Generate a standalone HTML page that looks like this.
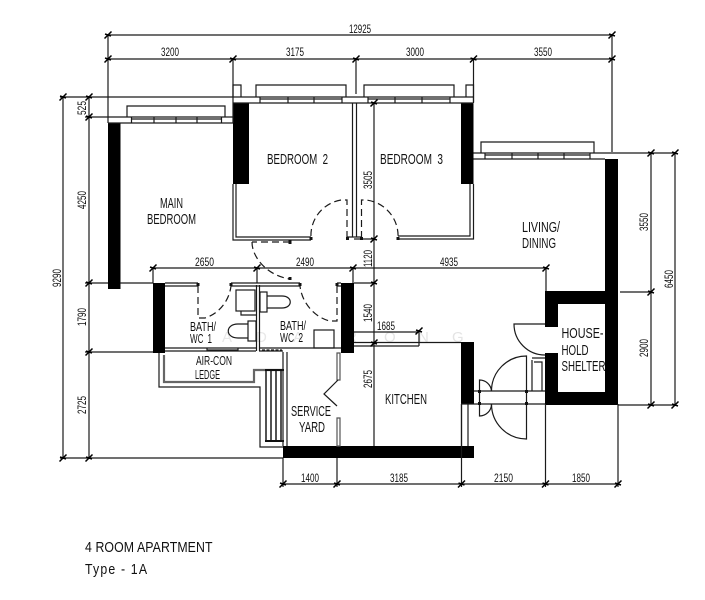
<!DOCTYPE html>
<html><head><meta charset="utf-8"><style>
html,body{margin:0;padding:0;background:#fff;width:705px;height:600px;overflow:hidden}
svg{display:block;filter:blur(.35px)}
text{font-family:"Liberation Sans",sans-serif;fill:#111}
.d{font-size:12px}
.l{font-size:15px;word-spacing:4px}
</style></head><body>
<svg width="705" height="600" viewBox="0 0 705 600" xmlns="http://www.w3.org/2000/svg">
<defs><path id="t" d="M-3.5 3.5L3.5-3.5M-3-1L3 1" fill="none" stroke="#000" stroke-width="1.5"/></defs>
<rect width="705" height="600" fill="#fff"/>

<!-- watermark -->
<g style="font-size:15px">
<text x="222" y="342" style="fill:#e8e8e8">A</text><text x="256" y="342" style="fill:#e8e8e8">D</text><text x="293" y="342" style="fill:#e8e8e8">A</text><text x="346" y="342" style="fill:#e4e4e4">R</text><text x="384" y="342" style="fill:#e4e4e4">O</text><text x="418" y="342" style="fill:#e4e4e4">N</text><text x="452" y="342" style="fill:#e4e4e4">G</text>
</g>

<!-- black walls -->
<g fill="#000">
<rect x="108" y="123" width="12.5" height="166"/>
<rect x="233" y="103" width="16" height="81"/>
<rect x="461" y="103" width="12.5" height="81"/>
<rect x="153" y="283" width="12" height="70"/>
<rect x="341" y="283" width="13" height="70"/>
<rect x="283" y="446" width="191" height="12"/>
<rect x="461" y="342" width="13" height="62"/>
<rect x="605" y="159" width="13" height="133"/>
<path fill-rule="evenodd" d="M545 291H618V405H545ZM558 304V392H605V304Z"/>
</g>
<rect x="545" y="327" width="13.5" height="26" fill="#fff"/>

<g fill="none" stroke="#1a1a1a" stroke-width="1.2">
<!-- dimension lines -->
<path d="M108 35H612M108 59H612M108 35V123M233 59V100M356 59V94M473.5 59V102M612 35V152"/>
<path d="M63 97V458M89 97V458M60 97H233M85 117H108M85 283H108M120 283H153M85 352H153M60 458H283"/>
<path d="M153 268H546M153 268V283M257 268V283M353 268V283M546 268V291"/>
<path d="M374 103V446M354 239H374M354 283H374M354 332H419M354 346H419M419 331V346"/>
<path d="M651 153V405M675 153V405M618 153H675M620 292H651M618 405H675"/>
<path d="M283 484H618M283 458V487M337 458V487M461.5 404V487M545.5 404V487M618 404V487"/>

<!-- main bedroom window -->
<path d="M108 117H233M108 123H233M127 117V106H225V117M233 100V123"/>
<path d="M131.5 117V123M154 117V123M176 117V123M197 117V123M221.5 117V123M131.5 119H221.5"/>
<!-- bedroom 2/3 top -->
<path d="M233 97H473.5M233 103H473.5M233 97V85H241V97M256 97V85H346V97M364 97V85H454V97M466 97V85H473.5V103"/>
<path d="M260 97V103M288 97V103M314 97V103M342 97V103M260 99H342M368 97V103M395 97V103M422 97V103M450 97V103M368 99H450"/>
<!-- bedroom partitions -->
<path d="M352.5 103V237M356.5 103V237M233 184V240H311M236 184V237H311M347 237H362M473.5 184V239H398M470 184V236H398"/>
<!-- bedroom doors -->
<path d="M347 238V200H341A36 36 0 0 0 311 238" stroke-dasharray="7 4"/>
<path d="M361.5 238V200H366A36 36 0 0 1 398 238" stroke-dasharray="7 4"/>
<path d="M290 242H252M252 242C252 258 268 276 290 279" stroke-dasharray="7 4"/>

<!-- living top -->
<path d="M473.5 153H618M473.5 159H605M481 153V142H594V153M485 153V159M512 153V159M538 153V159M564 153V159M590 153V159M485 155H590"/>

<!-- bath block -->
<path d="M165 283H198M165 286H198M231 283H300M231 286H300M337 283H341M337 286H341"/>
<path d="M165 348H256M165 351H256M207 348V351M238 348V351M207 350H238M256.5 285V351M259.5 285V351M259 348H341M259 351H283"/>
<path d="M198 286V318H205C218 314 229 302 231 286" stroke-dasharray="7 4"/>
<path d="M337 286V321H330C316 318 302 304 300 286" stroke-dasharray="7 4"/>
<rect x="236" y="290" width="19" height="21"/>
<path d="M241 311V315H256"/>
<rect x="248" y="321" width="8" height="20"/>
<path d="M248 324H238C225 324 225 338 238 338H248"/>
<rect x="260" y="292" width="7" height="20"/>
<path d="M267 296H282C293 296 293 308 282 308H267"/>
<rect x="314" y="330" width="20" height="18"/>
<path d="M262 350H282" stroke-dasharray="3 1.5"/>

<!-- ledge -->
<path d="M159 353V387H260V447H283"/>
<path d="M164 355V382H254V370H283" stroke="#666" stroke-width="2.2"/>
<path d="M266 370V441M271 370V441M276 370V441M281 370V441" stroke-width="1.5"/>
<path d="M265 370H284M265 441H284" stroke-width="2" stroke="#111"/>
<path d="M283 352V446M287 352V446"/>

<!-- service yard door -->
<path d="M337 353V380H340V353ZM337 418H340V446H337Z" stroke="#555"/>
<path d="M338 380L324 394L337 406"/>

<!-- kitchen -->
<path d="M354 342.5H461M461.5 404V446M468 404V446"/>

<!-- entrance -->
<path d="M474 391H545M461 404H545M479.5 391V404M526.5 391V404"/>
<path d="M526.5 391V356A35 35 0 0 0 491.5 391"/>
<path d="M526.5 404V439A35 35 0 0 1 491.5 404"/>
<path d="M479.5 391V380A12 12 0 0 1 491.5 391"/>
<path d="M479.5 404V416A12 12 0 0 0 491.5 404"/>
<!-- shelter door -->
<path d="M545 324H514A31 31 0 0 0 545 355"/>
<path d="M532 391V360M542 391V362H534M532 358H545"/>
</g>

<!-- ticks -->
<g>
<use href="#t" x="108" y="35"/><use href="#t" x="612" y="35"/>
<use href="#t" x="108" y="59"/><use href="#t" x="233" y="59"/><use href="#t" x="356" y="59"/><use href="#t" x="473.5" y="59"/><use href="#t" x="612" y="59"/>
<use href="#t" x="63" y="97"/><use href="#t" x="63" y="458"/>
<use href="#t" x="89" y="97"/><use href="#t" x="89" y="117"/><use href="#t" x="89" y="283"/><use href="#t" x="89" y="352"/><use href="#t" x="89" y="458"/>
<use href="#t" x="153" y="268"/><use href="#t" x="257" y="268"/><use href="#t" x="353" y="268"/><use href="#t" x="546" y="268"/>
<use href="#t" x="374" y="103"/><use href="#t" x="374" y="239"/><use href="#t" x="374" y="283"/><use href="#t" x="374" y="343"/><use href="#t" x="419" y="331"/>
<use href="#t" x="651" y="153"/><use href="#t" x="651" y="292"/><use href="#t" x="651" y="405"/><use href="#t" x="675" y="153"/><use href="#t" x="675" y="405"/>
<use href="#t" x="283" y="484"/><use href="#t" x="337" y="484"/><use href="#t" x="461.5" y="484"/><use href="#t" x="545.5" y="484"/><use href="#t" x="618" y="484"/>
</g>

<!-- small square door markers -->
<g fill="#111">
<rect x="309.5" y="237" width="3" height="3"/><rect x="346" y="237" width="3" height="3"/><rect x="360" y="237" width="3" height="3"/><rect x="396.5" y="237" width="3" height="3"/><rect x="288.5" y="240" width="3" height="4"/><rect x="288.5" y="277" width="3" height="3"/><rect x="196.5" y="283" width="3" height="3"/><rect x="229.5" y="283" width="3" height="3"/><rect x="298.5" y="283" width="3" height="3"/><rect x="335.5" y="283" width="3" height="3"/>
<rect x="478" y="390" width="3" height="3"/><rect x="525" y="390" width="3" height="3"/><rect x="478" y="402" width="3" height="3"/><rect x="525" y="402" width="3" height="3"/>
</g>

<!-- dimension text horizontal -->
<g class="d">
<text x="161" y="56" textLength="18" lengthAdjust="spacingAndGlyphs">3200</text>
<text x="286" y="56" textLength="18" lengthAdjust="spacingAndGlyphs">3175</text>
<text x="406" y="56" textLength="18" lengthAdjust="spacingAndGlyphs">3000</text>
<text x="534" y="56" textLength="18" lengthAdjust="spacingAndGlyphs">3550</text>
<text x="349" y="33" textLength="22" lengthAdjust="spacingAndGlyphs">12925</text>
<text x="195" y="266" textLength="19" lengthAdjust="spacingAndGlyphs">2650</text>
<text x="296" y="266" textLength="18" lengthAdjust="spacingAndGlyphs">2490</text>
<text x="440" y="266" textLength="18" lengthAdjust="spacingAndGlyphs">4935</text>
<text x="377" y="330" textLength="18" lengthAdjust="spacingAndGlyphs">1685</text>
<text x="301" y="482" textLength="18" lengthAdjust="spacingAndGlyphs">1400</text>
<text x="390" y="482" textLength="18" lengthAdjust="spacingAndGlyphs">3185</text>
<text x="494" y="482" textLength="19" lengthAdjust="spacingAndGlyphs">2150</text>
<text x="572" y="482" textLength="18" lengthAdjust="spacingAndGlyphs">1850</text>
</g>
<!-- dimension text vertical -->
<g class="d">
<text transform="translate(86 115) rotate(-90)" textLength="14" lengthAdjust="spacingAndGlyphs">525</text>
<text transform="translate(86 209) rotate(-90)" textLength="18" lengthAdjust="spacingAndGlyphs">4250</text>
<text transform="translate(86 326) rotate(-90)" textLength="18" lengthAdjust="spacingAndGlyphs">1790</text>
<text transform="translate(86 414) rotate(-90)" textLength="18" lengthAdjust="spacingAndGlyphs">2725</text>
<text transform="translate(61 287) rotate(-90)" textLength="18" lengthAdjust="spacingAndGlyphs">9290</text>
<text transform="translate(372 189) rotate(-90)" textLength="18" lengthAdjust="spacingAndGlyphs">3505</text>
<text transform="translate(372 267) rotate(-90)" textLength="17" lengthAdjust="spacingAndGlyphs">1120</text>
<text transform="translate(372 322) rotate(-90)" textLength="18" lengthAdjust="spacingAndGlyphs">1540</text>
<text transform="translate(372 388) rotate(-90)" textLength="18" lengthAdjust="spacingAndGlyphs">2675</text>
<text transform="translate(648 231) rotate(-90)" textLength="18" lengthAdjust="spacingAndGlyphs">3550</text>
<text transform="translate(673 288) rotate(-90)" textLength="18" lengthAdjust="spacingAndGlyphs">6450</text>
<text transform="translate(648 357) rotate(-90)" textLength="18" lengthAdjust="spacingAndGlyphs">2900</text>
</g>

<!-- room labels -->
<g class="l">
<text x="267" y="164" textLength="61" lengthAdjust="spacingAndGlyphs">BEDROOM 2</text>
<text x="380" y="164" textLength="63" lengthAdjust="spacingAndGlyphs">BEDROOM 3</text>
<text x="160" y="208" textLength="23" lengthAdjust="spacingAndGlyphs">MAIN</text>
<text x="147" y="224" textLength="49" lengthAdjust="spacingAndGlyphs">BEDROOM</text>
<text x="522" y="232" textLength="38" lengthAdjust="spacingAndGlyphs">LIVING/</text>
<text x="522" y="248" textLength="34" lengthAdjust="spacingAndGlyphs">DINING</text>
<text x="291" y="416" textLength="40" lengthAdjust="spacingAndGlyphs">SERVICE</text>
<text x="299" y="432" textLength="26" lengthAdjust="spacingAndGlyphs">YARD</text>
<text x="385" y="404" textLength="42" lengthAdjust="spacingAndGlyphs">KITCHEN</text>
<text x="561.5" y="338" textLength="42" lengthAdjust="spacingAndGlyphs">HOUSE-</text>
<text x="561.5" y="355" textLength="27" lengthAdjust="spacingAndGlyphs">HOLD</text>
<text x="561.5" y="371" textLength="44" lengthAdjust="spacingAndGlyphs">SHELTER</text>
</g>
<g style="font-size:13px;word-spacing:3px">
<text x="190" y="331" textLength="26" lengthAdjust="spacingAndGlyphs">BATH/</text>
<text x="190" y="343" textLength="22" lengthAdjust="spacingAndGlyphs">WC 1</text>
<text x="280" y="330" textLength="26" lengthAdjust="spacingAndGlyphs">BATH/</text>
<text x="280" y="342" textLength="23" lengthAdjust="spacingAndGlyphs">WC 2</text>
<text x="196" y="365" textLength="36" lengthAdjust="spacingAndGlyphs">AIR-CON</text>
<text x="195" y="379" textLength="25" lengthAdjust="spacingAndGlyphs">LEDGE</text>
</g>

<text transform="translate(85 552) scale(.85 1)" style="font-size:14.5px" textLength="150" lengthAdjust="spacing">4 ROOM APARTMENT</text>
<text transform="translate(85 574) scale(.85 1)" style="font-size:14.5px" textLength="73" lengthAdjust="spacing">Type - 1A</text>
</svg>
</body></html>
